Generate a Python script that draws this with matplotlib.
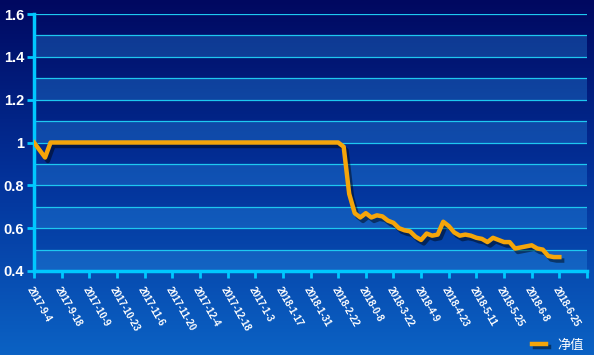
import numpy as np
import matplotlib
matplotlib.use("Agg")
from matplotlib import pyplot as plt
from matplotlib import patheffects as pe
from matplotlib.colors import LinearSegmentedColormap

# tick labels (one every 5 points)
tick_labels = ["2017-9-4", "2017-9-18", "2017-10-9", "2017-10-23", "2017-11-6",
               "2017-11-20", "2017-12-4", "2017-12-18", "2017-1-3", "2018-1-17",
               "2018-1-31", "2018-2-22", "2018-0-8", "2018-3-22", "2018-4-9",
               "2018-4-23", "2018-5-11", "2018-5-25", "2018-6-8", "2018-6-25"]
points_per_tick = 5

# 净值 series
nav = [1.0, 0.965, 0.93, 1.0] + [1.0] * 52 + [
    0.98, 0.76, 0.67, 0.65, 0.67, 0.65, 0.66, 0.655, 0.635, 0.625,
    0.60, 0.59, 0.585, 0.56, 0.545, 0.575, 0.565, 0.57, 0.63, 0.61,
    0.58, 0.565, 0.57, 0.565, 0.555, 0.55, 0.535, 0.555, 0.545, 0.535,
    0.535, 0.505, 0.51, 0.515, 0.52, 0.505, 0.50, 0.47, 0.465, 0.465]

W, H = 594, 355
fig = plt.figure(figsize=(W / 100, H / 100), dpi=100)

# background gradient
bg = fig.add_axes([0, 0, 1, 1], zorder=-10)
bg_cmap = LinearSegmentedColormap.from_list("bg", ["#000860", "#03329a", "#0b62c4"])
bg.imshow(np.linspace(0, 1, 256).reshape(-1, 1), aspect="auto", cmap=bg_cmap,
          extent=[0, 1, 0, 1])
bg.axis("off")

ax = fig.add_axes([34 / W, 1 - 271 / H, (587 - 34) / W, (271 - 14) / H])
ax.set_facecolor("none")

grid_c = "#1ec8f0"
axis_c = "#00c8ff"

for y0 in np.arange(0.4, 1.6, 0.2):
    ax.axhspan(y0, y0 + 0.1, color="#2f9cf0", alpha=0.3, lw=0, zorder=0)
for y in np.arange(0.5, 1.65, 0.1):
    ax.axhline(y, color=grid_c, lw=0.9, zorder=1)

x = np.arange(len(nav))
line, = ax.plot(x, nav, color="#f5a50a", lw=3.2, solid_joinstyle="round", zorder=3,
                path_effects=[pe.SimpleLineShadow(offset=(2, -2.5), shadow_color="black", alpha=0.45),
                              pe.Normal()])

n_ticks = len(tick_labels)
ax.set_xlim(0, n_ticks * points_per_tick)
ax.set_ylim(0.4, 1.6)
ax.set_xticks(np.arange(n_ticks + 1) * points_per_tick)
ax.set_xticklabels(tick_labels + [""], rotation=-60, ha="left", va="top",
                   rotation_mode="anchor", fontsize=7, fontweight="bold",
                   family="Liberation Sans")
ax.set_yticks(np.arange(0.4, 1.61, 0.2))
ax.set_yticklabels(["%g" % round(v, 1) for v in np.arange(0.4, 1.61, 0.2)],
                   fontsize=10.5, fontweight="bold",
                   family="Liberation Sans")

for side in ["top", "right"]:
    ax.spines[side].set_visible(False)
for side in ["left", "bottom"]:
    ax.spines[side].set_color(axis_c)
    ax.spines[side].set_linewidth(2.5)
ax.tick_params(axis="both", color=axis_c, labelcolor="white", width=2, length=5)
ax.tick_params(axis="x", pad=5)
ax.tick_params(axis="y", pad=2)

leg = ax.legend([line], ["净值"], loc="lower right", bbox_to_anchor=(1.015, -0.36),
                frameon=False, handlelength=1.1,
                prop={"family": ["Noto Sans CJK SC", "DejaVu Sans"], "size": 9.5})
for t in leg.get_texts():
    t.set_color("white")

fig.savefig("out.png", dpi=100)
